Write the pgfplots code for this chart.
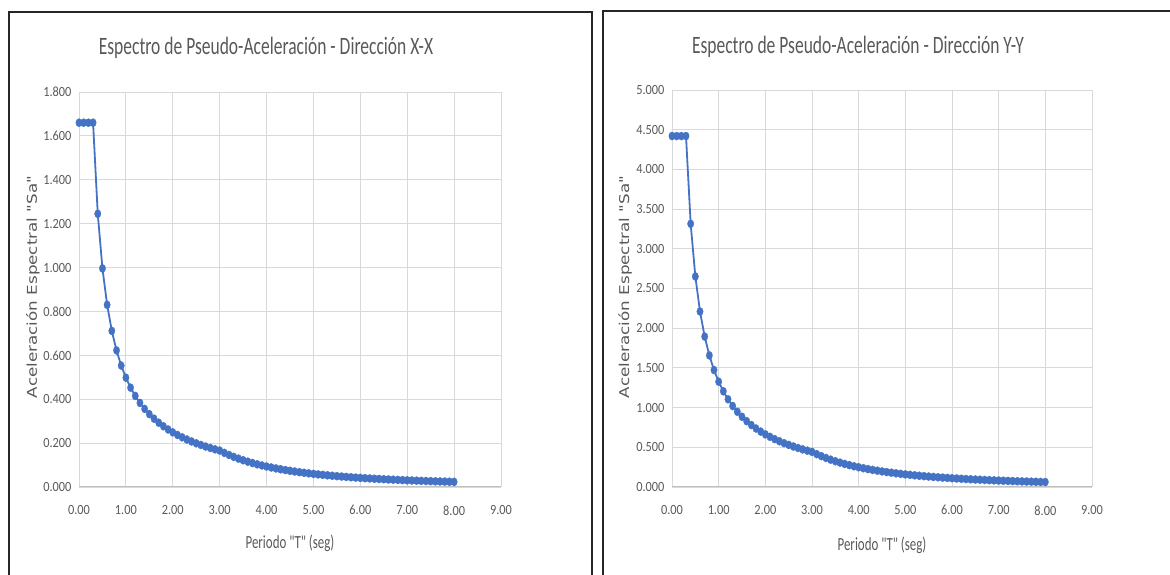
\documentclass[border=0pt]{standalone}
\usepackage{pgfplots}
\pgfplotsset{compat=1.18}
\usepackage{pgfplotstable}
\usepackage{fontspec}
\setmainfont{Carlito}
\newfontfamily\cfont[FakeStretch=0.70]{Carlito}
\newfontfamily\tfont[FakeStretch=0.88]{Carlito}
\newfontfamily\yfont[FakeStretch=1.24]{DejaVu Sans}
\definecolor{xlblue}{HTML}{4472C4}
\definecolor{txtgray}{HTML}{595959}
\definecolor{gridgray}{HTML}{D9D9D9}
\definecolor{axgray}{HTML}{BFBFBF}

\pgfplotstableread{
T Sa
0.0 1.660
0.1 1.660
0.2 1.660
0.3 1.660
0.4 1.245
0.5 0.996
0.6 0.830
0.7 0.7114
0.8 0.6225
0.9 0.5533
1.0 0.498
1.1 0.4527
1.2 0.415
1.3 0.3831
1.4 0.3557
1.5 0.332
1.6 0.3113
1.7 0.2929
1.8 0.2767
1.9 0.2621
2.0 0.249
2.1 0.2371
2.2 0.2264
2.3 0.2165
2.4 0.2075
2.5 0.1992
2.6 0.1915
2.7 0.1844
2.8 0.1779
2.9 0.1717
3.0 0.166
3.1 0.1555
3.2 0.1459
3.3 0.1372
3.4 0.1292
3.5 0.1220
3.6 0.1153
3.7 0.1091
3.8 0.1035
3.9 0.0982
4.0 0.0934
4.1 0.0889
4.2 0.0847
4.3 0.0808
4.4 0.0772
4.5 0.0738
4.6 0.0706
4.7 0.0676
4.8 0.0648
4.9 0.0622
5.0 0.0598
5.1 0.0574
5.2 0.0553
5.3 0.0532
5.4 0.0512
5.5 0.0494
5.6 0.0476
5.7 0.0460
5.8 0.0444
5.9 0.0429
6.0 0.0415
6.1 0.0402
6.2 0.0389
6.3 0.0376
6.4 0.0365
6.5 0.0354
6.6 0.0343
6.7 0.0333
6.8 0.0323
6.9 0.0314
7.0 0.0305
7.1 0.0296
7.2 0.0288
7.3 0.0280
7.4 0.0273
7.5 0.0266
7.6 0.0259
7.7 0.0252
7.8 0.0246
7.9 0.0239
8.0 0.0233
}\dataX

\pgfplotstableread{
T Sa
0.0 4.420
0.1 4.420
0.2 4.420
0.3 4.420
0.4 3.315
0.5 2.652
0.6 2.210
0.7 1.8943
0.8 1.6575
0.9 1.4733
1.0 1.326
1.1 1.2055
1.2 1.105
1.3 1.020
1.4 0.9471
1.5 0.884
1.6 0.8288
1.7 0.780
1.8 0.7367
1.9 0.6979
2.0 0.663
2.1 0.6314
2.2 0.6027
2.3 0.5765
2.4 0.5525
2.5 0.5304
2.6 0.510
2.7 0.4911
2.8 0.4736
2.9 0.4572
3.0 0.442
3.1 0.4139
3.2 0.3885
3.3 0.3653
3.4 0.3441
3.5 0.3247
3.6 0.3069
3.7 0.2906
3.8 0.2755
3.9 0.2615
4.0 0.2486
4.1 0.2366
4.2 0.2255
4.3 0.2151
4.4 0.2055
4.5 0.1964
4.6 0.1880
4.7 0.1801
4.8 0.1727
4.9 0.1657
5.0 0.1591
5.1 0.1529
5.2 0.1471
5.3 0.1416
5.4 0.1364
5.5 0.1315
5.6 0.1268
5.7 0.1224
5.8 0.1183
5.9 0.1143
6.0 0.1105
6.1 0.1069
6.2 0.1035
6.3 0.1002
6.4 0.0971
6.5 0.0942
6.6 0.0913
6.7 0.0886
6.8 0.0860
6.9 0.0836
7.0 0.0812
7.1 0.0789
7.2 0.0767
7.3 0.0746
7.4 0.0726
7.5 0.0707
7.6 0.0689
7.7 0.0671
7.8 0.0654
7.9 0.0637
8.0 0.0622
}\dataY

\pgfplotsset{
  specstyle/.style={
    scale only axis,
    anchor=south west,
    xmin=0, xmax=9,
    ymin=0,
    xtick={0,1,...,9},
    axis x line*=bottom,
    axis y line*=left,
    x axis line style={-, draw=axgray, line width=1pt},
    y axis line style={draw=none},
    major tick length=0pt,
    grid=major,
    major grid style={draw=gridgray, line width=0.8pt},
    clip=false,
    /pgf/number format/assume math mode=true,
    ticklabel style={font=\tfont\fontsize{14}{16}\selectfont, text=txtgray},
    xticklabel style={/pgf/number format/.cd, fixed, fixed zerofill, precision=2, /tikz/.cd, yshift=-15pt},
    yticklabel style={/pgf/number format/.cd, fixed, fixed zerofill, precision=3, /tikz/.cd, xshift=-4pt},
    scaled ticks=false,
  },
  specplot/.style={
    color=xlblue, line width=1.8pt,
    mark=*, mark size=4.1pt,
    mark options={xscale=0.78, fill=xlblue, draw=xlblue, line width=0.3pt},
  }
}

\begin{document}
\begin{tikzpicture}[x=1pt,y=1pt]
\useasboundingbox (0,0) rectangle (1170,575);
% panel borders
\draw[line width=1.3pt, black!85] (9,0) -- (9,563) -- (592,563) -- (592,0);
\draw[line width=1.3pt, black!85] (603,0) -- (603,564) -- (1172,564);

% left chart
\begin{axis}[specstyle, at={(79pt,88pt)}, width=422pt, height=395pt,
  ymax=1.8, ytick={0,0.2,...,1.8}]
  \addplot[specplot] table[x=T,y=Sa] {\dataX};
\end{axis}
\node[text=txtgray, font=\cfont\fontsize{25}{28}\selectfont] at (266,527) {Espectro de Pseudo-Aceleración - Dirección X-X};
\node[text=txtgray, font=\cfont\fontsize{18.5}{20}\selectfont] at (290,32) {Periodo "T" (seg)};
\node[text=txtgray, rotate=90, font=\yfont\fontsize{13.5}{15}\selectfont] at (33,288) {Aceleración Espectral "Sa"};

% right chart
\begin{axis}[specstyle, at={(672pt,88pt)}, width=420pt, height=397pt,
  ymax=5, ytick={0,0.5,...,5}]
  \addplot[specplot] table[x=T,y=Sa] {\dataY};
\end{axis}
\node[text=txtgray, font=\cfont\fontsize{25}{28}\selectfont] at (858,528) {Espectro de Pseudo-Aceleración - Dirección Y-Y};
\node[text=txtgray, font=\cfont\fontsize{18.5}{20}\selectfont] at (882,30) {Periodo "T" (seg)};
\node[text=txtgray, rotate=90, font=\yfont\fontsize{13.5}{15}\selectfont] at (625,288) {Aceleración Espectral "Sa"};
\end{tikzpicture}
\end{document}
